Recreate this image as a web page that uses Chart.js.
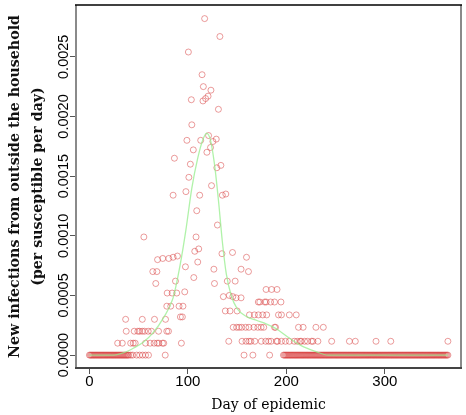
<!DOCTYPE html>
<html>
<head>
<meta charset="utf-8">
<script src="https://cdn.jsdelivr.net/npm/chart.js@4.4.1/dist/chart.umd.min.js"></script>
<style>
    html, body { margin: 0; padding: 0; background: #fff; }
    #wrap { width: 466px; height: 415px; }
</style>
</head>
<body>
<div id="wrap"><canvas id="epi-chart" width="466" height="415"></canvas></div>
<script>
// days where no one was infected from outside the household
const zeroDays = [
    0,1,2,3,4,5,6,7,8,9,10,11,12,13,14,15,16,17,18,19,20,21,22,23,24,25,26,27,28,29,
    30,31,32,33,34,35,36,37,38,39,40,42,44,48,51,54,57,60,77,157,166,183,
    197,198,199,200,201,202,203,204,205,206,207,208,209,210,211,212,213,214,215,216,
    217,218,219,220,221,222,223,224,225,226,227,228,229,230,231,232,233,234,235,236,
    237,238,239,240,241,242,243,244,245,246,247,248,249,250,251,252,253,254,255,256,
    257,258,259,260,261,262,263,264,265,266,267,268,269,270,271,272,273,274,275,276,
    277,278,279,280,281,282,283,284,285,286,287,288,289,290,291,292,293,294,295,296,
    297,298,299,300,301,302,303,304,305,306,307,308,309,310,311,312,313,314,315,316,
    317,318,319,320,321,322,323,324,325,326,327,328,329,330,331,332,333,334,335,336,
    337,338,339,340,341,342,343,344,345,346,347,348,349,350,351,352,353,354,355,356,
    357,358,359,360,361,362,363,364
];

// nonzero days and their rates (per susceptible per day)
const outsideDays = [
    117,132.5,100.5,114.4,115.7,123.4,120.5,118,115.3,103.5,131,104,121,99,113,128.8,125.4,105.5,123,119.3,
    86.3,102.5,129.4,133.5,101,124,98,85,112,135,138.5,109,130,55.3,108.3,111,107,134.6,145.3,
    69.2,74.5,80.6,85,89.4,159.5,110,97.5,64.4,68.5,126.4,154,161.5,106,87.4,67.4,127,140,148,
    179.4,185,190.5,79,84,88.7,96.8,136,142,145.6,149,154,
    171.5,173,178,179.5,184,188,194.5,
    78.6,82.6,91,95,
    138,142.8,150,
    36.8,53.7,66.1,77.3,92.4,94.4,
    162.5,167.5,171.6,176,180,192,195,203,210,
    37.4,45.5,49.2,51,53.6,56,59.7,63,70.2,78.6,80.3,
    146,149.5,152,154.7,158.7,162,167,171,174.3,177,188,189,212.3,217,230,237.5,
    28.7,33.4,41.9,44.5,46.5,57,61.7,65.7,68.8,70.5,74.2,75.5,93.4,
    141.5,155,159,162,164,168,174.5,179,182,184.5,190,191,195,199,203,208,211,214,215,218.5,
    221.5,225.5,227,232,246,264,270,291,306,364
];
const outsideRates = [
    0.00282,0.00267,0.00254,0.00235,0.00225,0.00222,0.00217,0.00215,0.00213,0.00214,0.00206,0.00193,0.00184,0.00180,0.00180,0.00181,0.00179,0.00172,0.00174,0.00170,
    0.00165,0.00160,0.00157,0.00159,0.00149,0.00142,0.00137,0.00134,0.00134,0.00134,0.00135,0.00121,0.00109,0.00099,0.00099,0.00089,0.00087,0.00085,0.00086,
    0.00080,0.00081,0.00081,0.00082,0.00083,0.00082,0.00078,0.00074,0.00070,0.00070,0.00072,0.00072,0.00070,0.00065,0.00062,0.00060,0.00060,0.00062,0.00062,
    0.00055,0.00055,0.00055,0.00052,0.00052,0.00052,0.00053,0.00049,0.00050,0.00049,0.00048,0.00048,
    0.000445,0.000445,0.000445,0.000445,0.000445,0.000445,0.000445,
    0.00041,0.00041,0.00041,0.00041,
    0.00037,0.00037,0.00037,
    0.0003,0.0003,0.0003,0.0003,0.00032,0.00032,
    0.000337,0.000337,0.000337,0.000337,0.000337,0.000337,0.000337,0.000337,0.000337,
    0.0002,0.0002,0.0002,0.0002,0.0002,0.0002,0.0002,0.0002,0.0002,0.0002,0.0002,
    0.000233,0.000233,0.000233,0.000233,0.000233,0.000233,0.000233,0.000233,0.000233,0.000233,0.000233,0.000233,0.000233,0.000233,0.000233,0.000233,
    0.0001,0.0001,0.0001,0.0001,0.0001,0.0001,0.0001,0.0001,0.0001,0.0001,0.0001,0.0001,0.0001,
    0.000116,0.000116,0.000116,0.000116,0.000116,0.000116,0.000116,0.000116,0.000116,0.000116,0.000116,0.000116,0.000116,0.000116,0.000116,0.000116,0.000116,0.000116,0.000116,0.000116,
    0.000116,0.000116,0.000116,0.000116,0.000116,0.000116,0.000116,0.000116,0.000116,0.000116
];

// smoothed trend (green line)
const trendDays = [0,25,35,45,55,65,75,85,92,98,104,110,115,119,123,127,131,135,139,144,150,160,170,180,190,200,215,230,242,364];
const trendRates = [0,0,0.00002,0.00006,0.00011,0.00019,0.00031,0.00048,0.00075,0.00105,0.0014,0.00165,0.0018,0.00186,0.0018,0.0016,0.0013,0.00095,0.00068,0.0005,0.00039,0.00032,0.00029,0.00026,0.00022,0.00016,0.00008,0.00003,0,0];

const xTicks = [0, 100, 200, 300];
const yTicks = [0, 0.0005, 0.001, 0.0015, 0.002, 0.0025];
const yTickLabels = ['0.0000', '0.0005', '0.0010', '0.0015', '0.0020', '0.0025'];

window.addEventListener("DOMContentLoaded", () => {
    const chart = setupChart();
});

function setupChart() {
    const ctx = document.getElementById('epi-chart');

    const scatterPoints = zeroDays.map(d => ({x: d, y: 0}))
        .concat(outsideDays.map((d, i) => ({x: d, y: outsideRates[i]})));
    const trendPoints = trendDays.map((d, i) => ({x: d, y: trendRates[i]}));

    // frame around the plot + rotated y tick labels, R style
    const framePlugin = {
        id: 'frame',
        afterDraw(chart) {
            const c = chart.ctx;
            const a = chart.chartArea;
            c.save();
            c.lineWidth = 2;
            c.strokeStyle = '#8a8a8a';
            c.beginPath();
            c.moveTo(a.left, a.top); c.lineTo(a.left, a.bottom);
            c.moveTo(a.right, a.top); c.lineTo(a.right, a.bottom);
            c.stroke();
            c.strokeStyle = '#444';
            c.beginPath();
            c.moveTo(a.left - 1, a.bottom); c.lineTo(a.right + 1, a.bottom);
            c.stroke();
            c.lineWidth = 1.5;
            c.strokeStyle = '#000';
            c.beginPath();
            c.moveTo(a.left - 1, a.top); c.lineTo(a.right + 1, a.top);
            c.stroke();

            const y = chart.scales.y;
            c.font = '14.5px "Liberation Sans", Arial, sans-serif';
            c.fillStyle = '#000';
            c.textAlign = 'center';
            c.textBaseline = 'middle';
            yTicks.forEach((v, i) => {
                c.save();
                c.translate(64, y.getPixelForValue(v));
                c.rotate(-Math.PI / 2);
                c.fillText(yTickLabels[i], 0, 0);
                c.restore();
            });
            c.restore();
        }
    };

    const config = {
        type: 'scatter',
        data: {
            datasets: [{
                type: 'line',
                data: trendPoints,
                borderColor: 'rgba(150,238,140,0.75)',
                borderWidth: 1.3,
                pointRadius: 0,
                fill: false,
                cubicInterpolationMode: 'monotone'
            }, {
                data: scatterPoints,
                pointRadius: 3,
                pointBorderWidth: 1,
                pointBackgroundColor: 'rgba(0,0,0,0)',
                pointBorderColor: 'rgba(215,60,60,0.5)'
            }]
        },
        plugins: [framePlugin],
        options: {
            responsive: false,
            animation: false,
            layout: {
                padding: {left: 0, right: 3, top: 2, bottom: 0}
            },
            plugins: {
                legend: {display: false},
                tooltip: {enabled: false}
            },
            scales: {
                x: {
                    type: 'linear',
                    min: -13.6,
                    max: 377.3,
                    afterBuildTicks: s => { s.ticks = xTicks.map(v => ({value: v})); },
                    afterFit: s => { s.height = 47; },
                    grid: {
                        drawOnChartArea: false,
                        drawTicks: true,
                        tickLength: 6,
                        tickColor: '#555',
                        tickWidth: 1
                    },
                    border: {display: false},
                    ticks: {
                        color: '#000',
                        padding: 0,
                        maxRotation: 0,
                        font: {family: '"Liberation Sans", Arial, sans-serif', size: 15, lineHeight: 1}
                    },
                    title: {
                        display: true,
                        text: 'Day of epidemic',
                        color: '#000',
                        padding: {top: 0, bottom: 1},
                        font: {family: '"DejaVu Serif", serif', size: 14, lineHeight: 1.2}
                    }
                },
                y: {
                    type: 'linear',
                    min: -0.000108,
                    max: 0.002934,
                    afterBuildTicks: s => { s.ticks = yTicks.map(v => ({value: v})); },
                    afterFit: s => { s.width = 76; },
                    grid: {
                        drawOnChartArea: false,
                        drawTicks: true,
                        tickLength: 6,
                        tickColor: '#555',
                        tickWidth: 1
                    },
                    border: {display: false},
                    ticks: {display: false},
                    title: {
                        display: true,
                        text: ['New infections from outside the household', '(per susceptible per day)'],
                        color: '#111',
                        padding: {top: 3.5, bottom: 0},
                        font: {family: '"DejaVu Serif", serif', size: 14.2, weight: 'bold', lineHeight: '23px'}
                    }
                }
            }
        }
    };

    return new Chart(ctx, config);
}
</script>
</body>
</html>
